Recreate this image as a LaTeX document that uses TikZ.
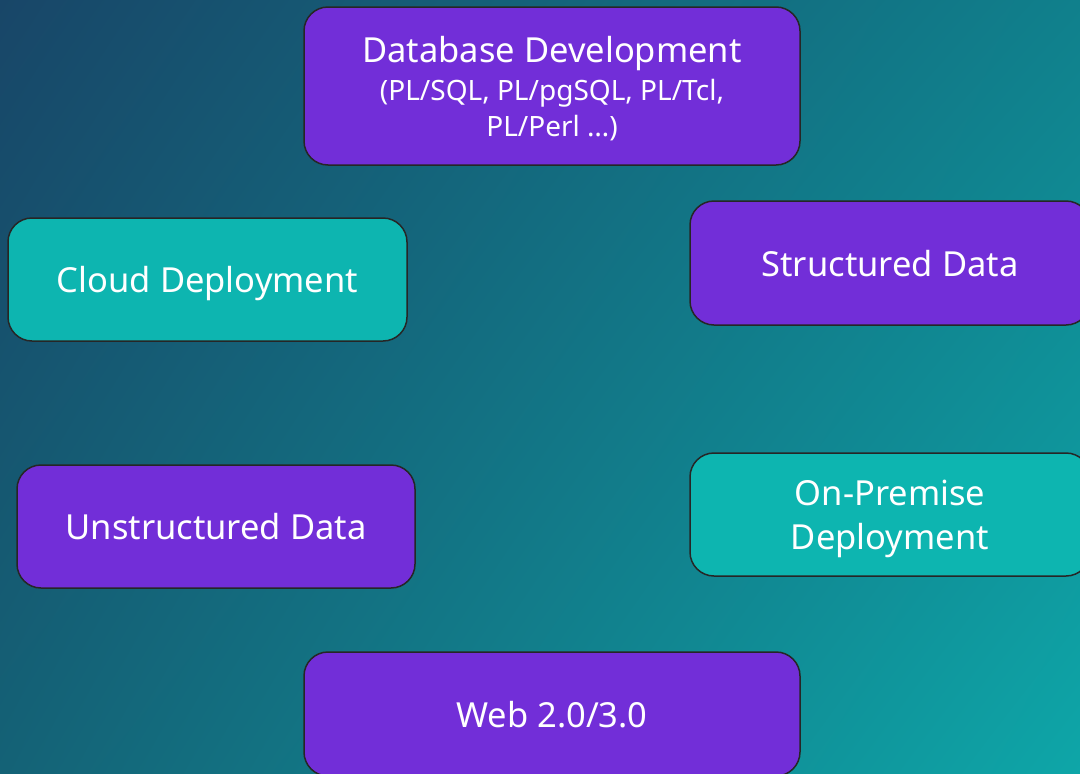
\documentclass[tikz,border=0pt]{standalone}
\usepackage{fontspec}
\setmainfont{Noto Sans}
\usetikzlibrary{shadings}
\definecolor{boxpurple}{RGB}{114,46,216}
\definecolor{boxteal}{RGB}{13,181,176}
\definecolor{bgtl}{RGB}{24,70,104}
\definecolor{bgtr}{RGB}{16,128,140}
\definecolor{bgbl}{RGB}{20,98,118}
\definecolor{bgbr}{RGB}{14,166,168}
\newcommand{\subfont}{\fontsize{28}{34}\selectfont}

\begin{document}
\begin{tikzpicture}[x=1pt,y=-1pt,
  box/.style={draw=black!85,line width=1.5pt,rounded corners=24pt,text=white,
    align=center,inner sep=0pt,text depth=0pt,font=\fontsize{34.5}{44}\selectfont},
  purplebox/.style={box,fill=boxpurple},
  tealbox/.style={box,fill=boxteal}]
\useasboundingbox (0,0) rectangle (1080,774);
\clip (0,0) rectangle (1080,774);
\shade[upper left=bgtl,upper right=bgtr,lower left=bgbl,lower right=bgbr]
  (0,0) rectangle (1080,774);

% top and bottom
\node[purplebox,minimum width=496pt,minimum height=158pt] (dbdev) at (552,86)
  {Database Development\\[-6pt]
   \subfont (PL/SQL, PL/pgSQL, PL/Tcl,\\[-8pt] \subfont PL/Perl …)};
\node[purplebox,minimum width=496pt,minimum height=124pt] (web) at (552,714)
  {Web 2.0/3.0};
% left column
\node[tealbox,minimum width=399pt,minimum height=123pt] (cloud) at (207.5,279.5)
  {Cloud Deployment};
\node[purplebox,minimum width=398pt,minimum height=123pt] (unstruct) at (216,526.5)
  {Unstructured Data};
% right column, running off the edge
\node[purplebox,minimum width=400pt,minimum height=124pt] (struct) at (890,263)
  {Structured Data};
\node[tealbox,minimum width=400pt,minimum height=123pt] (onprem) at (890,514.5)
  {On-Premise\\Deployment};
\end{tikzpicture}
\end{document}
